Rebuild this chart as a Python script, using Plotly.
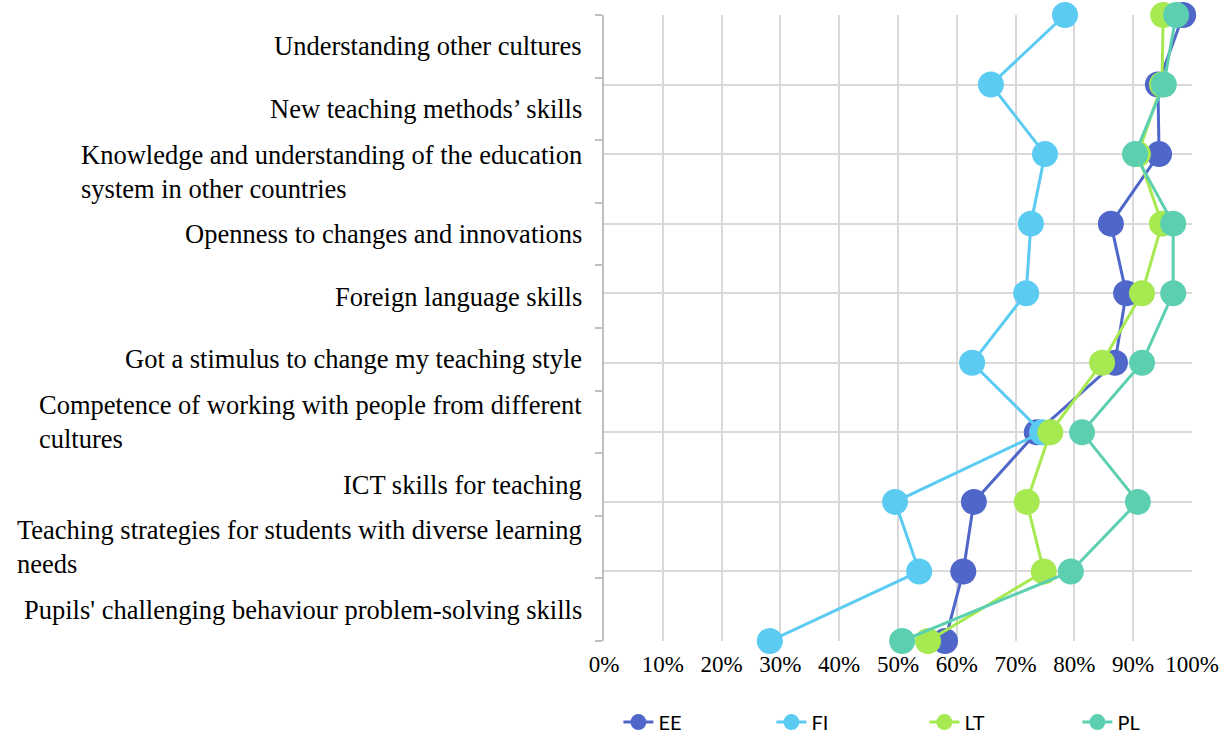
import plotly.graph_objects as go

# Category labels, top to bottom
labels = [
    "Understanding other cultures",
    "New teaching methods\u2019 skills",
    "Knowledge and understanding of the education<br>system in other countries",
    "Openness to changes and innovations",
    "Foreign language skills",
    "Got a stimulus to change my teaching style",
    "Competence of working with people from different<br>cultures",
    "ICT skills for teaching",
    "Teaching strategies for students with diverse learning<br>needs",
    "Pupils' challenging behaviour problem-solving skills",
]

# Series values (percent), top to bottom
EE = [98.5, 94.2, 94.4, 86.2, 88.8, 86.9, 73.6, 62.9, 61.1, 58.0]
FI = [78.4, 65.8, 75.0, 72.6, 71.8, 62.6, 74.5, 49.5, 53.6, 28.2]
LT = [95.1, 94.9, 90.8, 94.9, 91.5, 84.7, 75.9, 71.9, 74.8, 55.1]
PL = [97.3, 95.2, 90.3, 96.8, 96.8, 91.5, 81.3, 90.8, 79.4, 50.7]

series = [("EE", EE, "#4F67C8"), ("FI", FI, "#5BCBF2"),
          ("LT", LT, "#A6E950"), ("PL", PL, "#5DCFB1")]

n = len(EE)
ypos = list(range(n - 1, -1, -1))  # top row at highest value

fig = go.Figure()
for name, vals, col in series:
    fig.add_trace(go.Scatter(
        x=vals, y=ypos, name=name, mode="lines+markers",
        line=dict(color=col, width=3),
        marker=dict(color=col, size=26),
        cliponaxis=False,
    ))

# dummy trace for label axis
fig.add_trace(go.Scatter(x=[None], y=[None], yaxis="y2", showlegend=False,
                         hoverinfo="skip"))

nl = len(labels)
annotations = []
for i, lab in enumerate(labels):
    annotations.append(dict(
        x=0, xref="paper", y=nl - i - 0.5, yref="y2",
        text=lab, showarrow=False, xanchor="right", yanchor="middle",
        align="left", xshift=-20,
        font=dict(family="Liberation Serif", size=26.5, color="#000000"),
    ))

fig.update_layout(
    width=1232, height=736,
    margin=dict(l=604, r=40, t=15, b=95),
    paper_bgcolor="white", plot_bgcolor="white",
    showlegend=True,
    legend=dict(orientation="h", xref="paper", x=-0.001, xanchor="left",
                yref="container", y=0.0454, yanchor="top", indentation=15,
                font=dict(family="Lato", size=20, color="#000000"),
                entrywidth=93, entrywidthmode="pixels"),
    xaxis=dict(range=[0, 100], dtick=10, ticksuffix="%", showgrid=True,
               gridcolor="#D9D9D9", gridwidth=1.5, zeroline=False, showline=False,
               ticks="", ticklabelstandoff=7,
               tickfont=dict(family="Liberation Serif", size=23, color="#000000")),
    yaxis=dict(range=[0, n - 1], dtick=1, showgrid=True, gridcolor="#D9D9D9",
               gridwidth=1.5, zeroline=False, showticklabels=False, ticks="",
               showline=False),
    yaxis2=dict(range=[0, nl], overlaying="y", side="left",
                tickvals=list(range(nl + 1)), ticks="outside", ticklen=7,
                tickcolor="#BFBFBF", tickwidth=1.5, showticklabels=False,
                showgrid=False, zeroline=False, showline=True,
                linecolor="#BFBFBF", linewidth=1.5),
    annotations=annotations,
)

fig.write_html("out.html", config={"displayModeBar": False},
               post_script="document.body.style.margin='0';")
